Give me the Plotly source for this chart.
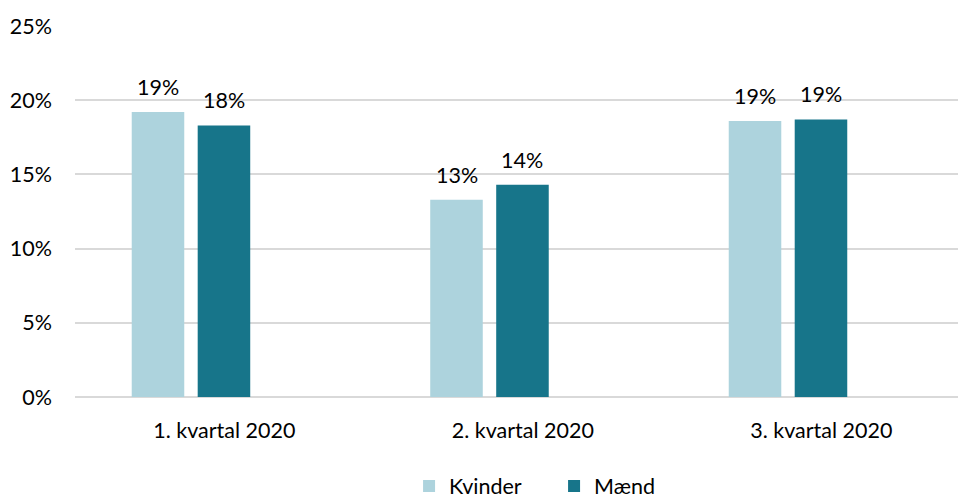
import plotly.graph_objects as go

categories = ["1. kvartal 2020", "2. kvartal 2020", "3. kvartal 2020"]
kvinder = [0.192, 0.133, 0.186]
maend = [0.183, 0.143, 0.187]
tick_vals = [0, 0.05, 0.10, 0.15, 0.20, 0.25]
tick_text = ["0%", "5%", "10%", "15%", "20%", "25%"]

FONT = "Lato"
FS = 21.5
TXT = "#000000"
bw = 0.176
CAT_PX = 298.5
series = [("Kvinder", kvinder, "#ADD3DD", -0.31), ("Mænd", maend, "#17758A", -0.089)]

fig = go.Figure()
annotations = []
for name, vals, col, off in series:
    fig.add_trace(go.Bar(
        name=name, x=categories, y=vals, marker_color=col,
        width=bw, offset=off, marker_line_width=0,
    ))
    for c, v in zip(categories, vals):
        annotations.append(dict(
            x=c, y=v, xref="x", yref="y", text=f"{v:.0%}", showarrow=False,
            xshift=(off + bw / 2) * CAT_PX, yshift=25, yanchor="middle",
            font=dict(family=FONT, size=FS, color=TXT),
        ))

fig.update_layout(
    width=958, height=495,
    margin=dict(l=75, r=0, t=26, b=98, autoexpand=False),
    paper_bgcolor="white", plot_bgcolor="white",
    font=dict(family=FONT, size=FS, color=TXT),
    barmode="overlay",
    showlegend=True,
    annotations=annotations,
    legend=dict(
        orientation="h", xref="container", yref="container",
        x=0.427, xanchor="left", y=0.018, yanchor="middle",
        entrywidth=100, entrywidthmode="pixels",
        font=dict(family=FONT, size=FS, color=TXT),
        bgcolor="rgba(0,0,0,0)",
    ),
    xaxis=dict(
        type="category", range=[-0.5, 2.458], automargin=False,
        showgrid=False, showline=False, ticks="",
        ticklabelstandoff=18,
        tickfont=dict(family=FONT, size=FS, color=TXT),
    ),
    yaxis=dict(
        range=[0, 0.25], tickvals=tick_vals, ticktext=tick_text, automargin=False,
        showgrid=True, gridcolor="#D9D9D9", gridwidth=1.5,
        zeroline=True, zerolinecolor="#D9D9D9", zerolinewidth=1.5,
        showline=False, ticks="", ticklabelstandoff=22,
        tickfont=dict(family=FONT, size=FS, color=TXT),
    ),
)

fig.write_html(
    "out.html",
    config={"displayModeBar": False},
    post_script="document.body.style.margin='0';document.body.style.overflow='hidden';",
)
